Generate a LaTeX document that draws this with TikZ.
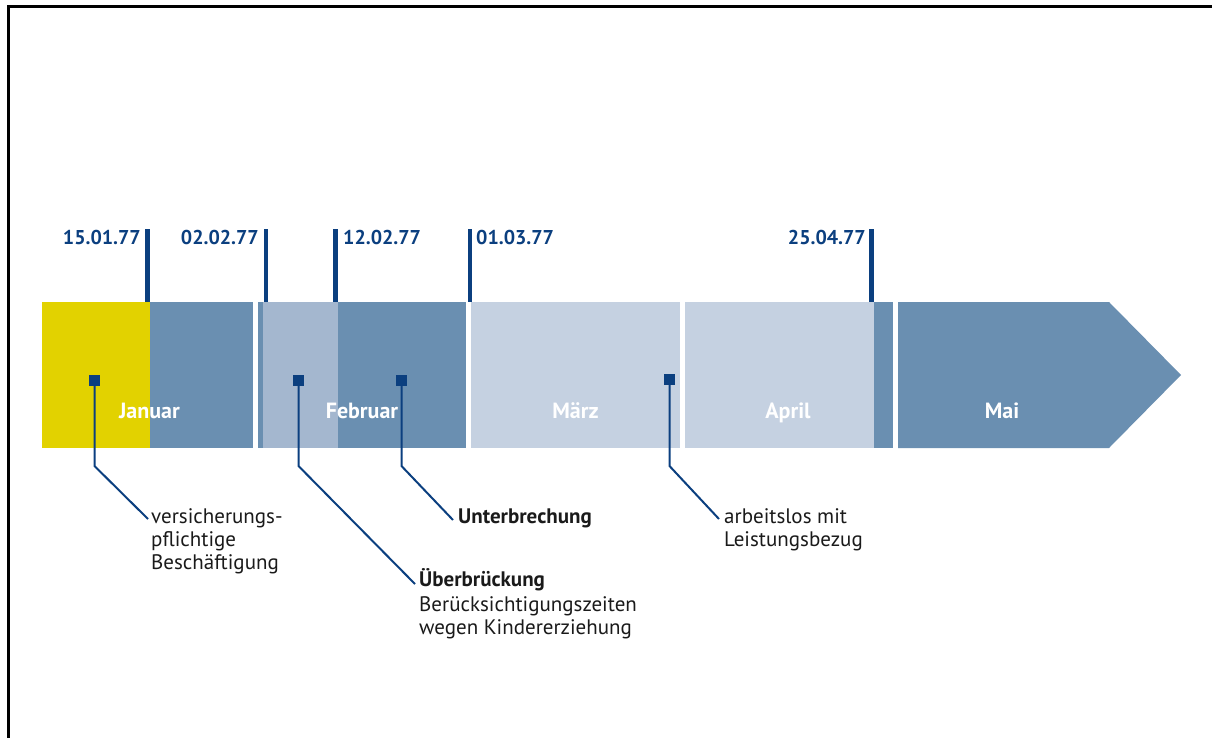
\documentclass[tikz,border=0pt]{standalone}
\usepackage{fontspec}
\setmainfont{PT Sans}
\definecolor{navy}{HTML}{0B3F7F}
\definecolor{gelb}{HTML}{E2D200}
\definecolor{mittelblau}{HTML}{6A8FB1}
\definecolor{hellblau}{HTML}{A4B7CF}
\definecolor{blassblau}{HTML}{C5D1E1}
\definecolor{schrift}{HTML}{1A1A1A}

\begin{document}
\begin{tikzpicture}[x=1pt,y=-1pt,
	datum/.style={font=\bfseries\fontsize{20}{24}\selectfont, text=navy, inner sep=0pt},
	monat/.style={font=\bfseries\fontsize{22}{24}\selectfont, text=white, inner sep=0pt},
	notiz/.style={font=\fontsize{21}{23}\selectfont, text=schrift, inner sep=0pt, align=left, anchor=base west},
	stich/.style={navy, line width=4.5pt},
	msq/.style={fill=navy, minimum size=11pt, inner sep=0pt},
	verb/.style={navy, line width=2pt}]
			\useasboundingbox (0,0) rectangle (1212,738);
			\draw[line width=3pt] (8.5,738) -- (8.5,6.5) -- (1212,6.5);
			
			\fill[gelb] (42,302) rectangle (150,448);
			\fill[mittelblau] (150,302) rectangle (253,448);
			\fill[mittelblau] (258,302) rectangle (263,448);
			\fill[hellblau] (263,302) rectangle (338,448);
			\fill[mittelblau] (338,302) rectangle (466,448);
			\fill[blassblau] (471,302) rectangle (680,448);
			\fill[blassblau] (685,302) rectangle (874,448);
			\fill[mittelblau] (874,302) rectangle (893,448);
			\fill[mittelblau] (898,302) -- (1109,302) -- (1181,375) -- (1109,448) -- (898,448) -- cycle;
			
			\draw[stich] (147.5,229) -- (147.5,302); \node[datum, anchor=base east] (d1) at (141,244) {15.01.77};
			\draw[stich] (266,229) -- (266,302); \node[datum, anchor=base east] (d2) at (259,244) {02.02.77};
			\draw[stich] (335.5,229) -- (335.5,302); \node[datum, anchor=base west] (d3) at (343,244) {12.02.77};
			\draw[stich] (470,229) -- (470,302); \node[datum, anchor=base west] (d4) at (476,244) {01.03.77};
			\draw[stich] (871.5,229) -- (871.5,302); \node[datum, anchor=base east] (d5) at (866,244) {25.04.77};
			
			\node[monat, anchor=base] (jan) at (149.5,418) {Januar};
			\node[monat, anchor=base] (feb) at (362,418) {Februar};
			\node[monat, anchor=base] (mrz) at (575.5,418) {März};
			\node[monat, anchor=base] (apr) at (788,418) {April};
			\node[monat, anchor=base] (mai) at (1002,418) {Mai};
			
			\node[msq] (m1) at (94.5,380.5) {};
			\node[msq] (m2) at (298.5,380.5) {};
			\node[msq] (m3) at (401.5,380.5) {};
			\node[msq] (m4) at (669.5,379.5) {};
			
			\node[notiz] (besch) at (151,569) {versicherungs-\\pflichtige\\Beschäftigung};
			\node[notiz] (brueck) at (419,634) {\bfseries Überbrückung\\[2pt]Berücksichtigungszeiten\\wegen Kindererziehung};
			\node[notiz] (unterbr) at (458,523) {\bfseries Unterbrechung};
			\node[notiz] (alos) at (724,546) {arbeitslos mit\\Leistungsbezug};
			
			\draw[verb] (m1.south) -- (m1 |- 0,466) -- ([xshift=-3pt,yshift=50pt]besch.base west);
			\draw[verb] (m2.south) -- (m2 |- 0,466) -- ([xshift=-4pt,yshift=50pt]brueck.base west);
			\draw[verb] (m3.south) -- (m3 |- 0,466) -- ([xshift=-5pt,yshift=3pt]unterbr.base west);
			\draw[verb] (m4.south) -- (m4 |- 0,466) -- ([xshift=-5pt,yshift=27pt]alos.base west);
\end{tikzpicture}
\end{document}
